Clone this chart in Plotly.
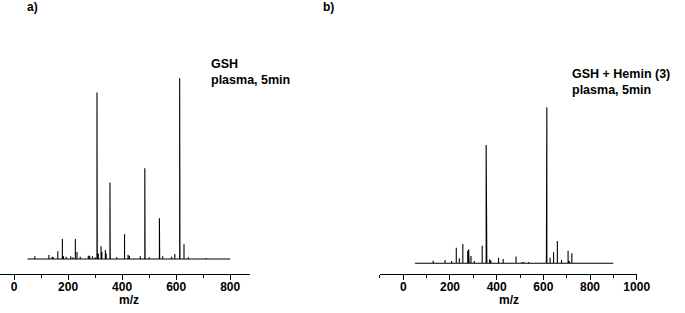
import plotly.graph_objects as go

W, H = 685, 313

# ---------------- data ----------------
# panel a: GSH plasma 5 min  (m/z, relative intensity %)
mz_a = [77, 129, 141, 145, 162, 179, 183, 193, 210, 218, 227, 233, 245, 275, 280,
        290, 300, 307, 308, 312, 322, 325, 338, 341, 355, 356, 380, 409, 422, 427,
        467, 484, 485, 500, 538, 539, 550, 583, 595, 613, 614, 629, 645, 711]
int_a = [1.5, 2.2, 1.2, 1.0, 4.3, 11.1, 1.5, 1.2, 1.5, 1.0, 11.1, 3.9, 1.2, 1.8, 1.8,
         1.5, 1.0, 92.2, 5.0, 3.0, 7.0, 4.0, 5.0, 3.0, 42.4, 22.0, 1.0, 13.7, 2.4, 1.8,
         1.5, 50.2, 10.0, 1.0, 22.5, 3.0, 1.5, 1.2, 2.8, 100.0, 16.0, 8.1, 1.0, 0.6]
range_a = (50, 800)

# panel b: GSH + Hemin (3) plasma 5 min
mz_b = [128, 179, 207, 227, 240, 255, 276, 280, 282, 290, 304, 338, 355, 358, 370,
        375, 408, 428, 483, 508, 516, 537, 613, 615, 629, 644, 660, 678, 706, 711,
        722, 762]
int_b = [1.7, 2.1, 1.5, 10.0, 3.2, 12.4, 8.1, 9.0, 5.0, 4.7, 1.5, 11.3, 75.8, 2.0, 2.6,
         2.0, 3.6, 2.8, 4.3, 0.8, 0.8, 0.8, 15.6, 100.0, 3.6, 7.1, 14.3, 2.1, 8.1, 1.5,
         6.4, 0.3]
range_b = (50, 900)

ticks_a = [0, 200, 400, 600, 800]
minor_a = [100, 300, 500, 700]
ticks_b = [0, 200, 400, 600, 800, 1000]
minor_b = [-100, 100, 300, 500, 700, 900]

label_a = "GSH<br>plasma, 5min"
label_b = "GSH + Hemin (3)<br>plasma, 5min"
xtitle = "m/z"


def stick_path(mz, inten, rng):
    pairs = sorted(zip(mz, inten))
    xs, ys = [rng[0]], [0]
    for m, i in pairs:
        xs += [m, m, m]
        ys += [0, i, 0]
    xs.append(rng[1])
    ys.append(0)
    return xs, ys


xa, ya = stick_path(mz_a, int_a, range_a)
xb, yb = stick_path(mz_b, int_b, range_b)

fig = go.Figure()
fig.add_trace(go.Scatter(x=xa, y=ya, mode="lines", xaxis="x", yaxis="y",
                         line=dict(color="black", width=1.1), hoverinfo="skip",
                         showlegend=False))
fig.add_trace(go.Scatter(x=xb, y=yb, mode="lines", xaxis="x2", yaxis="y2",
                         line=dict(color="black", width=1.1), hoverinfo="skip",
                         showlegend=False))

bold = dict(family="Liberation Sans, Arial, sans-serif", size=12, color="black", weight="bold")

axis_line_px = 274
ybot = (H - axis_line_px) / H


def xaxis_cfg(dom, rng, tv, mv):
    return dict(domain=dom, range=rng, showline=True, linecolor="black", linewidth=1,
                ticks="outside", ticklen=5, tickwidth=1, tickcolor="black",
                tickmode="array", tickvals=tv, ticktext=[str(v) for v in tv],
                ticklabelstandoff=-3,
                minor=dict(tickmode="array", tickvals=mv, ticks="outside", ticklen=3,
                           tickwidth=1, tickcolor="black", showgrid=False),
                tickfont=bold, showgrid=False, zeroline=False, fixedrange=True)


# panel a pixel mapping: x = 14.3 + 0.2759*v
xa0, xas = 14.3, 0.2759
dom_a = [(xa0 + xas * -50) / W, (xa0 + xas * 875) / W]
# panel b pixel mapping: x = 411.7 + 0.2383*v
xb0, xbs = 411.7, 0.2383
dom_b = [(xb0 + xbs * -100) / W, (xb0 + xbs * 1000) / W]

# y mapping
pa = 1.807  # px per % (panel a)
base_a = 259
ya_lo = -(axis_line_px - base_a) / pa
ya_hi = axis_line_px / pa + ya_lo
pb = 1.56
base_b = 263.3
yb_lo = -(axis_line_px - base_b) / pb
yb_hi = axis_line_px / pb + yb_lo

fig.update_layout(
    width=W, height=H, autosize=False,
    margin=dict(l=0, r=0, t=0, b=0),
    paper_bgcolor="white", plot_bgcolor="white",
    xaxis=dict(**xaxis_cfg(dom_a, [-50, 875], ticks_a, minor_a), anchor="y"),
    xaxis2=dict(**xaxis_cfg(dom_b, [-100, 1000], ticks_b, minor_b), anchor="y2"),
    yaxis=dict(domain=[ybot, 1], range=[ya_lo, ya_hi], visible=False, anchor="x",
               fixedrange=True),
    yaxis2=dict(domain=[ybot, 1], range=[yb_lo, yb_hi], visible=False, anchor="x2",
                fixedrange=True),
)


def px_x(p):
    return p / W


def px_y(p):
    return (H - p) / H


ann_font = dict(family="Liberation Sans, Arial, sans-serif", size=12.5, color="black",
                weight="bold")
cond_font = dict(family="Liberation Sans Narrow, Arial Narrow, Liberation Sans, sans-serif",
                 size=12, color="black", weight="bold")

annotations = [
    dict(text="a)", x=px_x(26.5), y=px_y(6.7), xanchor="left", yanchor="middle",
         font=cond_font),
    dict(text="b)", x=px_x(329), y=px_y(6.7), xanchor="left", yanchor="middle",
         font=cond_font),
    dict(text=label_a, x=px_x(214), y=px_y(72), xanchor="left", yanchor="middle",
         align="left", font=ann_font),
    dict(text=label_b, x=px_x(583), y=px_y(82), xanchor="left", yanchor="middle",
         align="left", font=ann_font),
    dict(text=xtitle, x=px_x(132), y=px_y(300), xanchor="center", yanchor="middle",
         font=bold),
    dict(text=xtitle, x=px_x(520), y=px_y(300), xanchor="center", yanchor="middle",
         font=bold),
]
for a in annotations:
    a.update(xref="paper", yref="paper", showarrow=False, borderpad=0)
fig.update_layout(annotations=annotations)

post = ("document.documentElement.style.margin='0';document.body.style.margin='0';"
        "document.body.style.padding='0';document.body.style.overflow='hidden';")

fig.write_html("out.html", post_script=post,
               config={"displayModeBar": False, "responsive": False})
